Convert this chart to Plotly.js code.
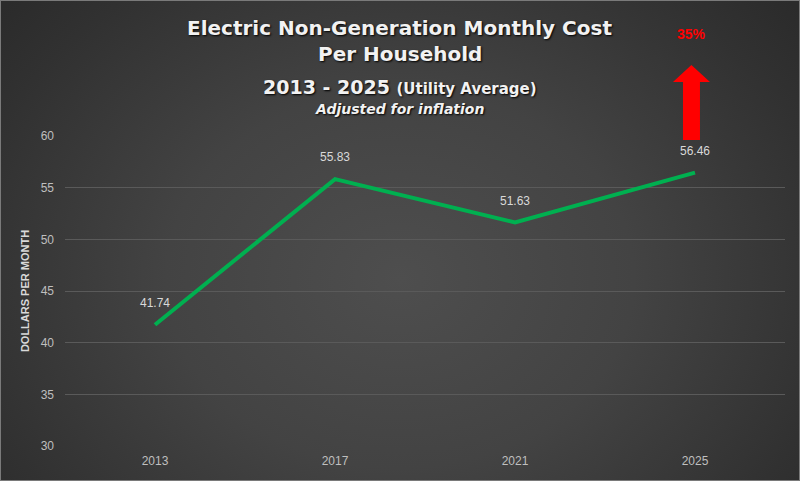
<!DOCTYPE html>
<html>
<head>
<meta charset="utf-8">
<script src="https://cdn.plot.ly/plotly-3.0.1.min.js"></script>
<style>
  html, body { margin: 0; padding: 0; background: #2e2e2e; }
  #chart {
    width: 798px; height: 479px;
    border: 1px solid #7a7a7a;
    background: radial-gradient(ellipse 520px 420px at 50% 58%, #4e4e4e 0%, #434343 45%, #313131 85%, #2b2b2b 100%);
  }
</style>
</head>
<body>
<div id="chart"></div>
<script>
// values
var years = ['2013', '2017', '2021', '2025'];
var costs = [41.74, 55.83, 51.63, 56.46];
var yTicks = [30, 35, 40, 45, 50, 55, 60];

var trace = {
    x: years,
    y: costs,
    type: 'scatter',
    mode: 'lines+markers+text',
    line: { color: '#00b050', width: 4 },
    marker: { size: 22, color: 'rgba(0,0,0,0)' },
    text: costs.map(v => v.toFixed(2)),
    textposition: 'top center',
    textfont: { family: 'Liberation Sans, Arial', size: 12, color: '#d9d9d9' },
    cliponaxis: false,
    hoverinfo: 'skip'
};

var titleFont = { family: 'DejaVu Sans', color: '#f2f2f2', weight: 'bold', shadow: '1px 1px 2px #000' };

function titleLine(text, y, size) {
    return { text: text, xref: 'paper', yref: 'paper', x: 0.465, y: y,
             xanchor: 'center', yanchor: 'middle', showarrow: false,
             font: Object.assign({ size: size }, titleFont) };
}

var layout = {
    width: 798,
    height: 479,
    paper_bgcolor: 'rgba(0,0,0,0)',
    plot_bgcolor: 'rgba(0,0,0,0)',
    margin: { l: 64, r: 14, t: 135, b: 34 },
    showlegend: false,
    xaxis: {
        type: 'category',
        range: [-0.5, 3.5],
        showgrid: false,
        zeroline: false,
        showline: false,
        ticks: '',
        ticklabelstandoff: 6,
        tickfont: { family: 'Liberation Sans, Arial', size: 12, color: '#bfbfbf' }
    },
    yaxis: {
        range: [30, 60],
        tickvals: yTicks,
        showgrid: true,
        gridcolor: '#5a5a5a',
        gridwidth: 1,
        zeroline: false,
        showline: false,
        ticks: '',
        ticklabelstandoff: 10,
        tickfont: { family: 'Liberation Sans, Arial', size: 12, color: '#bfbfbf' },
        title: {
            text: 'DOLLARS PER MONTH',
            standoff: 8,
            font: { family: 'Liberation Sans, Arial', size: 11, color: '#d9d9d9', weight: 'bold' }
        }
    },
    annotations: [
        titleLine('Electric Non-Generation Monthly Cost', 1.348, 20),
        titleLine('Per Household', 1.265, 20),
        titleLine('2013 - 2025 <span style="font-size:15px">(Utility Average)</span>', 1.158, 19),
        titleLine('<i>Adjusted for inflation</i>', 1.087, 14),
        { text: '35%', xref: 'paper', yref: 'paper', x: 0.870, y: 1.329,
          xanchor: 'center', yanchor: 'middle', showarrow: false,
          font: { family: 'Liberation Sans, Arial', size: 14, color: '#ff0000', weight: 'bold' } }
    ],
    shapes: [
        {
            type: 'path', xref: 'paper', yref: 'paper',
            path: 'M 0.8583 0.987 L 0.8583 1.174 L 0.8444 1.174 L 0.870 1.229 L 0.8958 1.174 L 0.8819 1.174 L 0.8819 0.987 Z',
            fillcolor: '#ff0000',
            line: { width: 0 },
            layer: 'above'
        }
    ]
};

Plotly.newPlot('chart', [trace], layout, { displayModeBar: false, staticPlot: true });
</script>
</body>
</html>
